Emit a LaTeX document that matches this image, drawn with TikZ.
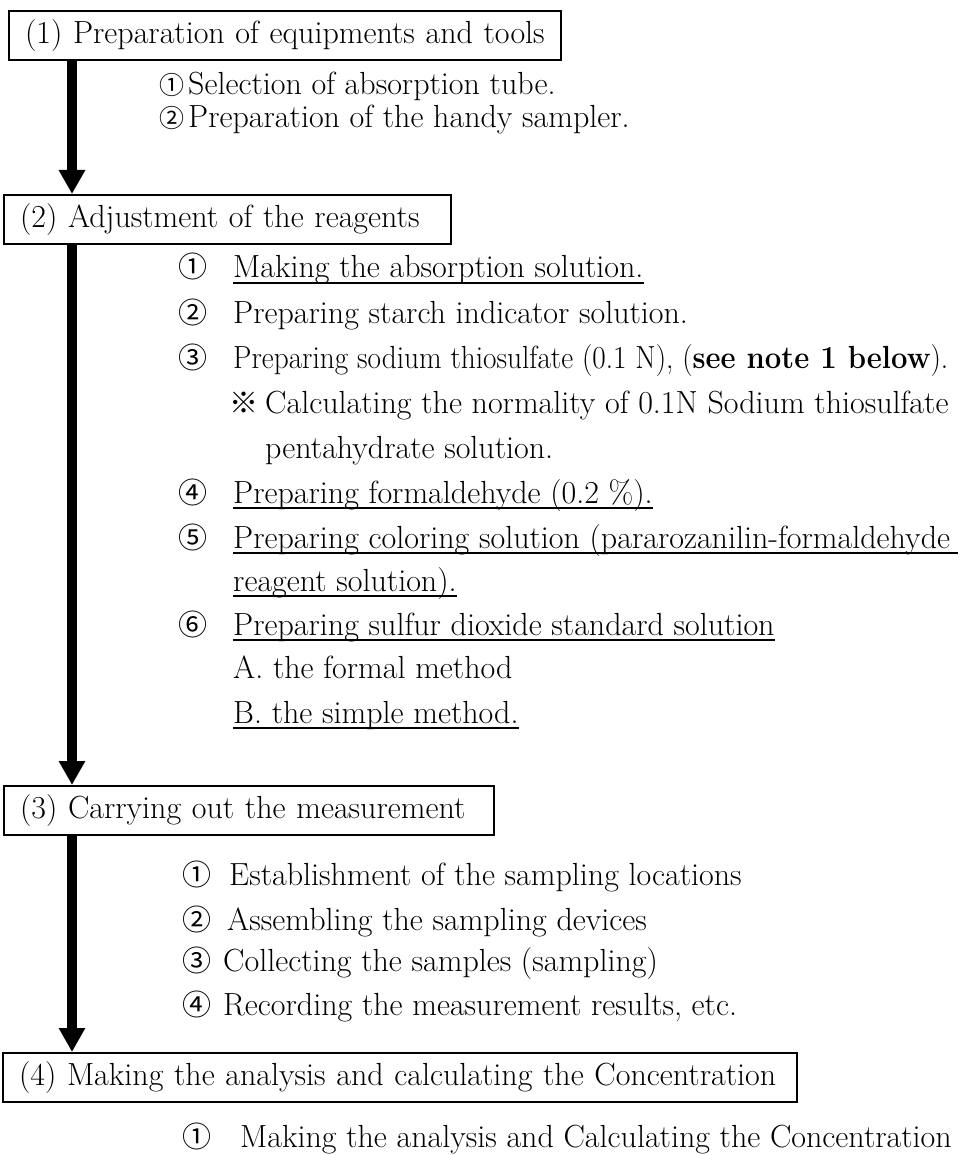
\documentclass[tikz,border=0pt]{standalone}
\usepackage{fontspec}
\newfontfamily\cjk{Noto Sans CJK JP}
\usetikzlibrary{arrows.meta}
\begin{document}
\begin{tikzpicture}[x=1pt,y=-1pt,
  every node/.style={font=\fontsize{32}{38}\selectfont},
  box/.style={draw=black, line width=2pt, anchor=north west, inner xsep=16pt,
    inner ysep=0pt, align=left, minimum height=49pt},
  item/.style={anchor=base west, inner sep=0pt},
  num/.style={anchor=base west, inner sep=0pt, font=\fontsize{29}{34}\selectfont\cjk},
  smallnum/.style={num, font=\fontsize{25}{30}\selectfont\cjk},
  flow/.style={line width=10pt, -{Triangle[width=25pt,length=24pt]}},
  uline/.style={line width=1.8pt}
]
\useasboundingbox (0,0) rectangle (973,1155);
\coordinate (spine) at (72,0);

% step boxes
\node[box, minimum width=552pt, text width=520pt] (b1) at (8,10)
  {(1) Preparation of equipments and tools};
\node[box, minimum width=447pt, text width=415pt] (b2) at (3,194)
  {(2) Adjustment of the reagents};
\node[box, minimum width=490pt, text width=458pt] (b3) at (3,785)
  {(3) Carrying out the measurement};
\node[box, minimum width=794pt, text width=762pt] (b4) at (2,1052)
  {(4) Making the analysis and calculating the Concentration};

% flow arrows
\draw[flow] (spine |- b1.south) -- (spine |- b2.north);
\draw[flow] (spine |- b2.south) -- (spine |- b3.north);
\draw[flow] (spine |- b3.south) -- (spine |- b4.north);

% (1) items
\node[smallnum] (n11) at (159,95) {①};
\node[item] (t11) at (188,95) {Selection of absorption tube.};
\node[smallnum] (n12) at (159,128) {②};
\node[item] (t12) at (188,128) {Preparation of the handy sampler.};

% (2) items
\node[num]  (n21) at (178,278) {①};
\node[item] (t21) at (233,278) {Making the absorption solution.};
\node[num]  (n22) at (178,323) {②};
\node[item] (t22) at (233,323) {Preparing starch indicator solution.};
\node[num]  (n23) at (178,368) {③};
\node[item] (t23) at (233,368) {\scalebox{0.915}[1]{Preparing sodium thiosulfate (0.1 N), (\textbf{see note 1 below}).}};
\node[num]  (n2x) at (229,413) {※};
\node[item] (t2x) at (265,413) {Calculating the normality of 0.1N Sodium thiosulfate};
\node[item] (t2y) at (265,458) {pentahydrate solution.};
\node[num]  (n24) at (178,503) {④};
\node[item] (t24) at (233,503) {Preparing formaldehyde (0.2 \%).};
\node[num]  (n25) at (178,548) {⑤};
\node[item] (t25) at (233,548) {Preparing coloring solution (pararozanilin-formaldehyde};
\node[item] (t25b) at (233,591) {reagent solution).};
\node[num]  (n26) at (178,635) {⑥};
\node[item] (t26) at (233,635) {Preparing sulfur dioxide standard solution};
\node[item] (t26a) at (233,678) {A. the formal method};
\node[item] (t26b) at (233,723) {B. the simple method.};

% underlines
\draw[uline] ([yshift=-5pt]t21.base west) -- ([yshift=-5pt]t21.base east);
\draw[uline] ([yshift=-5pt]t24.base west) -- ([yshift=-5pt]t24.base east);
\draw[uline] ([yshift=-5pt]t25.base west) -- ([yshift=-5pt,xshift=8pt]t25.base east);
\draw[uline] ([yshift=-5pt]t25b.base west) -- ([yshift=-5pt]t25b.base east);
\draw[uline] ([yshift=-5pt]t26.base west) -- ([yshift=-5pt]t26.base east);
\draw[uline] ([yshift=-5pt]t26b.base west) -- ([yshift=-5pt]t26b.base east);

% (3) items
\node[num]  (n31) at (182,885) {①};
\node[item] (t31) at (229,885) {Establishment of the sampling locations};
\node[num]  (n32) at (182,930) {②};
\node[item] (t32) at (227,930) {Assembling the sampling devices};
\node[num]  (n33) at (182,971) {③};
\node[item] (t33) at (223,971) {Collecting the samples (sampling)};
\node[num]  (n34) at (182,1015) {④};
\node[item] (t34) at (223,1015) {Recording the measurement results, etc.};

% (4) items
\node[num]  (n41) at (182,1147) {①};
\node[item] (t41) at (240,1147) {Making the analysis and Calculating the Concentration};
\end{tikzpicture}
\end{document}
